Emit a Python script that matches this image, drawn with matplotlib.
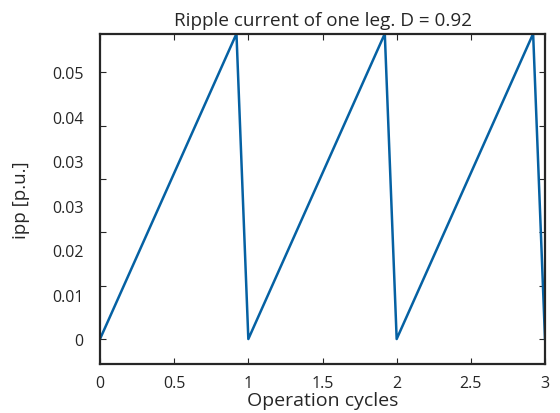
import numpy as np
import matplotlib
matplotlib.use('Agg')
import matplotlib.pyplot as plt
from matplotlib.ticker import FixedLocator, FixedFormatter, NullFormatter

plt.rcParams['font.family'] = ['Open Sans', 'DejaVu Sans']

# one-leg ripple current, duty cycle 0.92
cycles = [0, 0.92, 1, 1.92, 2, 2.92, 3]
ipp = [0, 0.0572, 0, 0.0572, 0, 0.0572, 0]

x_ticks = [0, 0.5, 1, 1.5, 2, 2.5, 3]
x_labels = ['0', '0.5', '1', '1.5', '2', '2.5', '3']
y_marks = [0, 0.01, 0.02, 0.03, 0.04, 0.05]
y_label_pos = [k * 0.05 / 6 for k in range(7)]
y_labels = ['0', '0.01', '0.02', '0.03', '0.03', '0.04', '0.05']

txt = '#262626'

fig = plt.figure(figsize=(5.6, 4.14), dpi=100)
ax = fig.add_axes([100 / 560, 1 - 365 / 414, 445 / 560, 330.3 / 414])

ax.plot(cycles, ipp, color='#0561a3', lw=1.8)

ax.set_xlim(0, 3)
ax.set_ylim(-0.00468, 0.0572)

ax.set_xticks(x_ticks)
ax.set_xticklabels(x_labels)
# tick marks every 0.01, labels on their own (unmarked) positions
ax.yaxis.remove_overlapping_locs = False
ax.yaxis.set_major_locator(FixedLocator(y_marks))
ax.yaxis.set_major_formatter(NullFormatter())
ax.yaxis.set_minor_locator(FixedLocator(y_label_pos))
ax.yaxis.set_minor_formatter(FixedFormatter(y_labels))

ax.tick_params(axis='both', which='major', direction='in', top=True, right=True,
               length=4, width=0.8, color=txt, labelsize=11.5, labelcolor=txt, pad=8)
ax.tick_params(axis='y', which='minor', length=0, labelsize=11.5, labelcolor=txt, pad=12)

for s in ax.spines.values():
    s.set_linewidth(1.6)
    s.set_color(txt)

ax.set_title('Ripple current of one leg. D = 0.92', fontsize=13.6, color=txt, pad=6)
ax.set_xlabel('Operation cycles', fontsize=14, color=txt, labelpad=0)
ax.set_ylabel('ipp [p.u.]', fontsize=13.5, color=txt, labelpad=16)

fig.savefig('out.png', dpi=100)
